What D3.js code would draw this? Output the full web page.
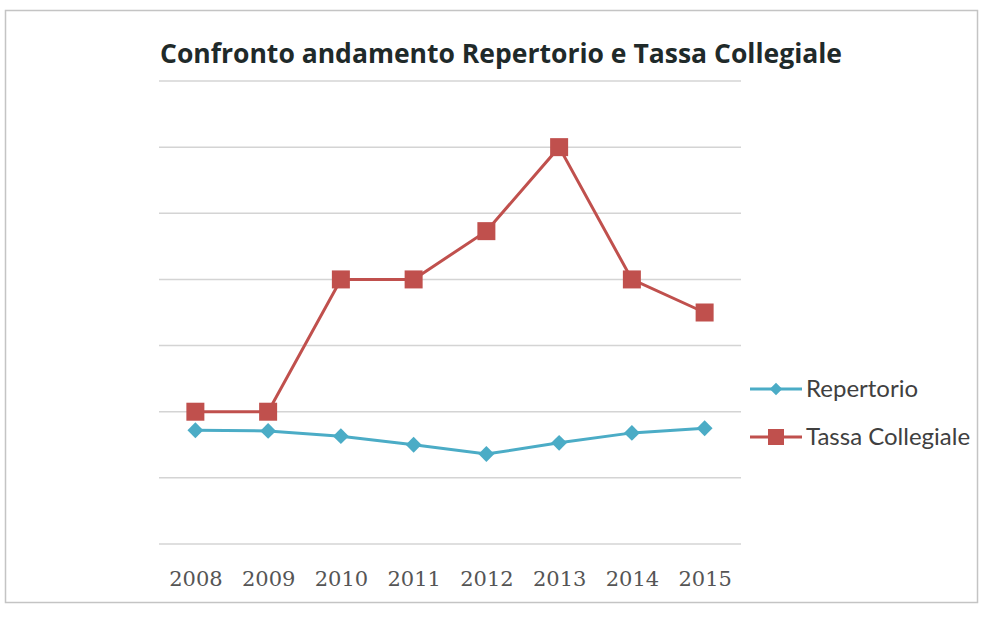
<!DOCTYPE html>
<html>
<head>
<meta charset="utf-8">
<script src="https://cdn.jsdelivr.net/npm/d3@7"></script>
<style>
  body { margin: 0; background: #fff; }
  text { font-family: Lato, "Open Sans", sans-serif; }
</style>
</head>
<body>
<div id="chart"></div>
<script>
// Data
const years = ["2008", "2009", "2010", "2011", "2012", "2013", "2014", "2015"];
const repertorio = [1.72, 1.71, 1.63, 1.50, 1.36, 1.53, 1.68, 1.75];
const tassa = [2, 2, 4, 4, 4.73, 6, 4, 3.5];
const gridTicks = [0, 1, 2, 3, 4, 5, 6, 7];

const svgW = 982, svgH = 627;
const plot = { left: 159, right: 741, top: 81, bottom: 544 };

const svg = d3.select("#chart").append("svg")
  .attr("width", svgW)
  .attr("height", svgH);

// outer frame
svg.append("rect")
  .attr("x", 5.5).attr("y", 10.5)
  .attr("width", 972).attr("height", 592)
  .attr("fill", "none")
  .attr("stroke", "#c4c4c4")
  .attr("stroke-width", 1.5);

const x = d3.scalePoint()
  .domain(years)
  .range([plot.left, plot.right])
  .padding(0.5);

const y = d3.scaleLinear()
  .domain([0, 7])
  .range([plot.bottom, plot.top]);

// gridlines
svg.append("g")
  .selectAll("line")
  .data(gridTicks)
  .enter()
  .append("line")
  .attr("x1", plot.left)
  .attr("x2", plot.right)
  .attr("y1", d => y(d))
  .attr("y2", d => y(d))
  .attr("stroke", "#d4d4d4")
  .attr("stroke-width", 1.5);

// x axis labels
const xAxis = svg.append("g")
  .attr("transform", `translate(0, ${plot.bottom})`)
  .call(d3.axisBottom(x).tickSize(0).tickPadding(27));
xAxis.select(".domain").remove();
xAxis.selectAll("text")
  .style("font-family", "'DejaVu Serif', serif")
  .style("font-size", "21px")
  .attr("fill", "#555");

// title
svg.append("text")
  .attr("x", 501)
  .attr("y", 63)
  .attr("text-anchor", "middle")
  .attr("textLength", 682)
  .attr("lengthAdjust", "spacingAndGlyphs")
  .style("font-family", "'Open Sans', sans-serif")
  .style("font-size", "26px")
  .style("font-weight", "bold")
  .attr("fill", "#1f2a2a")
  .text("Confronto andamento Repertorio e Tassa Collegiale");

const line = d3.line()
  .x((d, i) => x(years[i]))
  .y(d => y(d));

const blue = "#4bacc6";
const red = "#c0504d";

// Tassa Collegiale
svg.append("path")
  .datum(tassa)
  .attr("d", line)
  .attr("fill", "none")
  .attr("stroke", red)
  .attr("stroke-width", 3);

svg.append("g")
  .selectAll("rect")
  .data(tassa)
  .enter()
  .append("rect")
  .attr("x", (d, i) => x(years[i]) - 9)
  .attr("y", d => y(d) - 9)
  .attr("width", 18)
  .attr("height", 18)
  .attr("fill", red);

// Repertorio
svg.append("path")
  .datum(repertorio)
  .attr("d", line)
  .attr("fill", "none")
  .attr("stroke", blue)
  .attr("stroke-width", 3);

const diamond = d3.symbol().type(d3.symbolDiamond2).size(160);
svg.append("g")
  .selectAll("path")
  .data(repertorio)
  .enter()
  .append("path")
  .attr("d", diamond)
  .attr("transform", (d, i) => `translate(${x(years[i])}, ${y(d)})`)
  .attr("fill", blue);

// legend
const legendItems = [
  { name: "Repertorio", color: blue, shape: "diamond", y: 389 },
  { name: "Tassa Collegiale", color: red, shape: "square", y: 437 }
];
const legend = svg.append("g");
legendItems.forEach(item => {
  legend.append("line")
    .attr("x1", 750).attr("x2", 802)
    .attr("y1", item.y).attr("y2", item.y)
    .attr("stroke", item.color)
    .attr("stroke-width", 3);
  if (item.shape === "diamond") {
    legend.append("path")
      .attr("d", d3.symbol().type(d3.symbolDiamond2).size(100))
      .attr("transform", `translate(776, ${item.y})`)
      .attr("fill", item.color);
  } else {
    legend.append("rect")
      .attr("x", 768).attr("y", item.y - 8)
      .attr("width", 16).attr("height", 16)
      .attr("fill", item.color);
  }
  legend.append("text")
    .attr("x", 806)
    .attr("y", item.y + 8)
    .style("font-size", "24px")
    .attr("fill", "#404040")
    .text(item.name);
});
</script>
</body>
</html>
